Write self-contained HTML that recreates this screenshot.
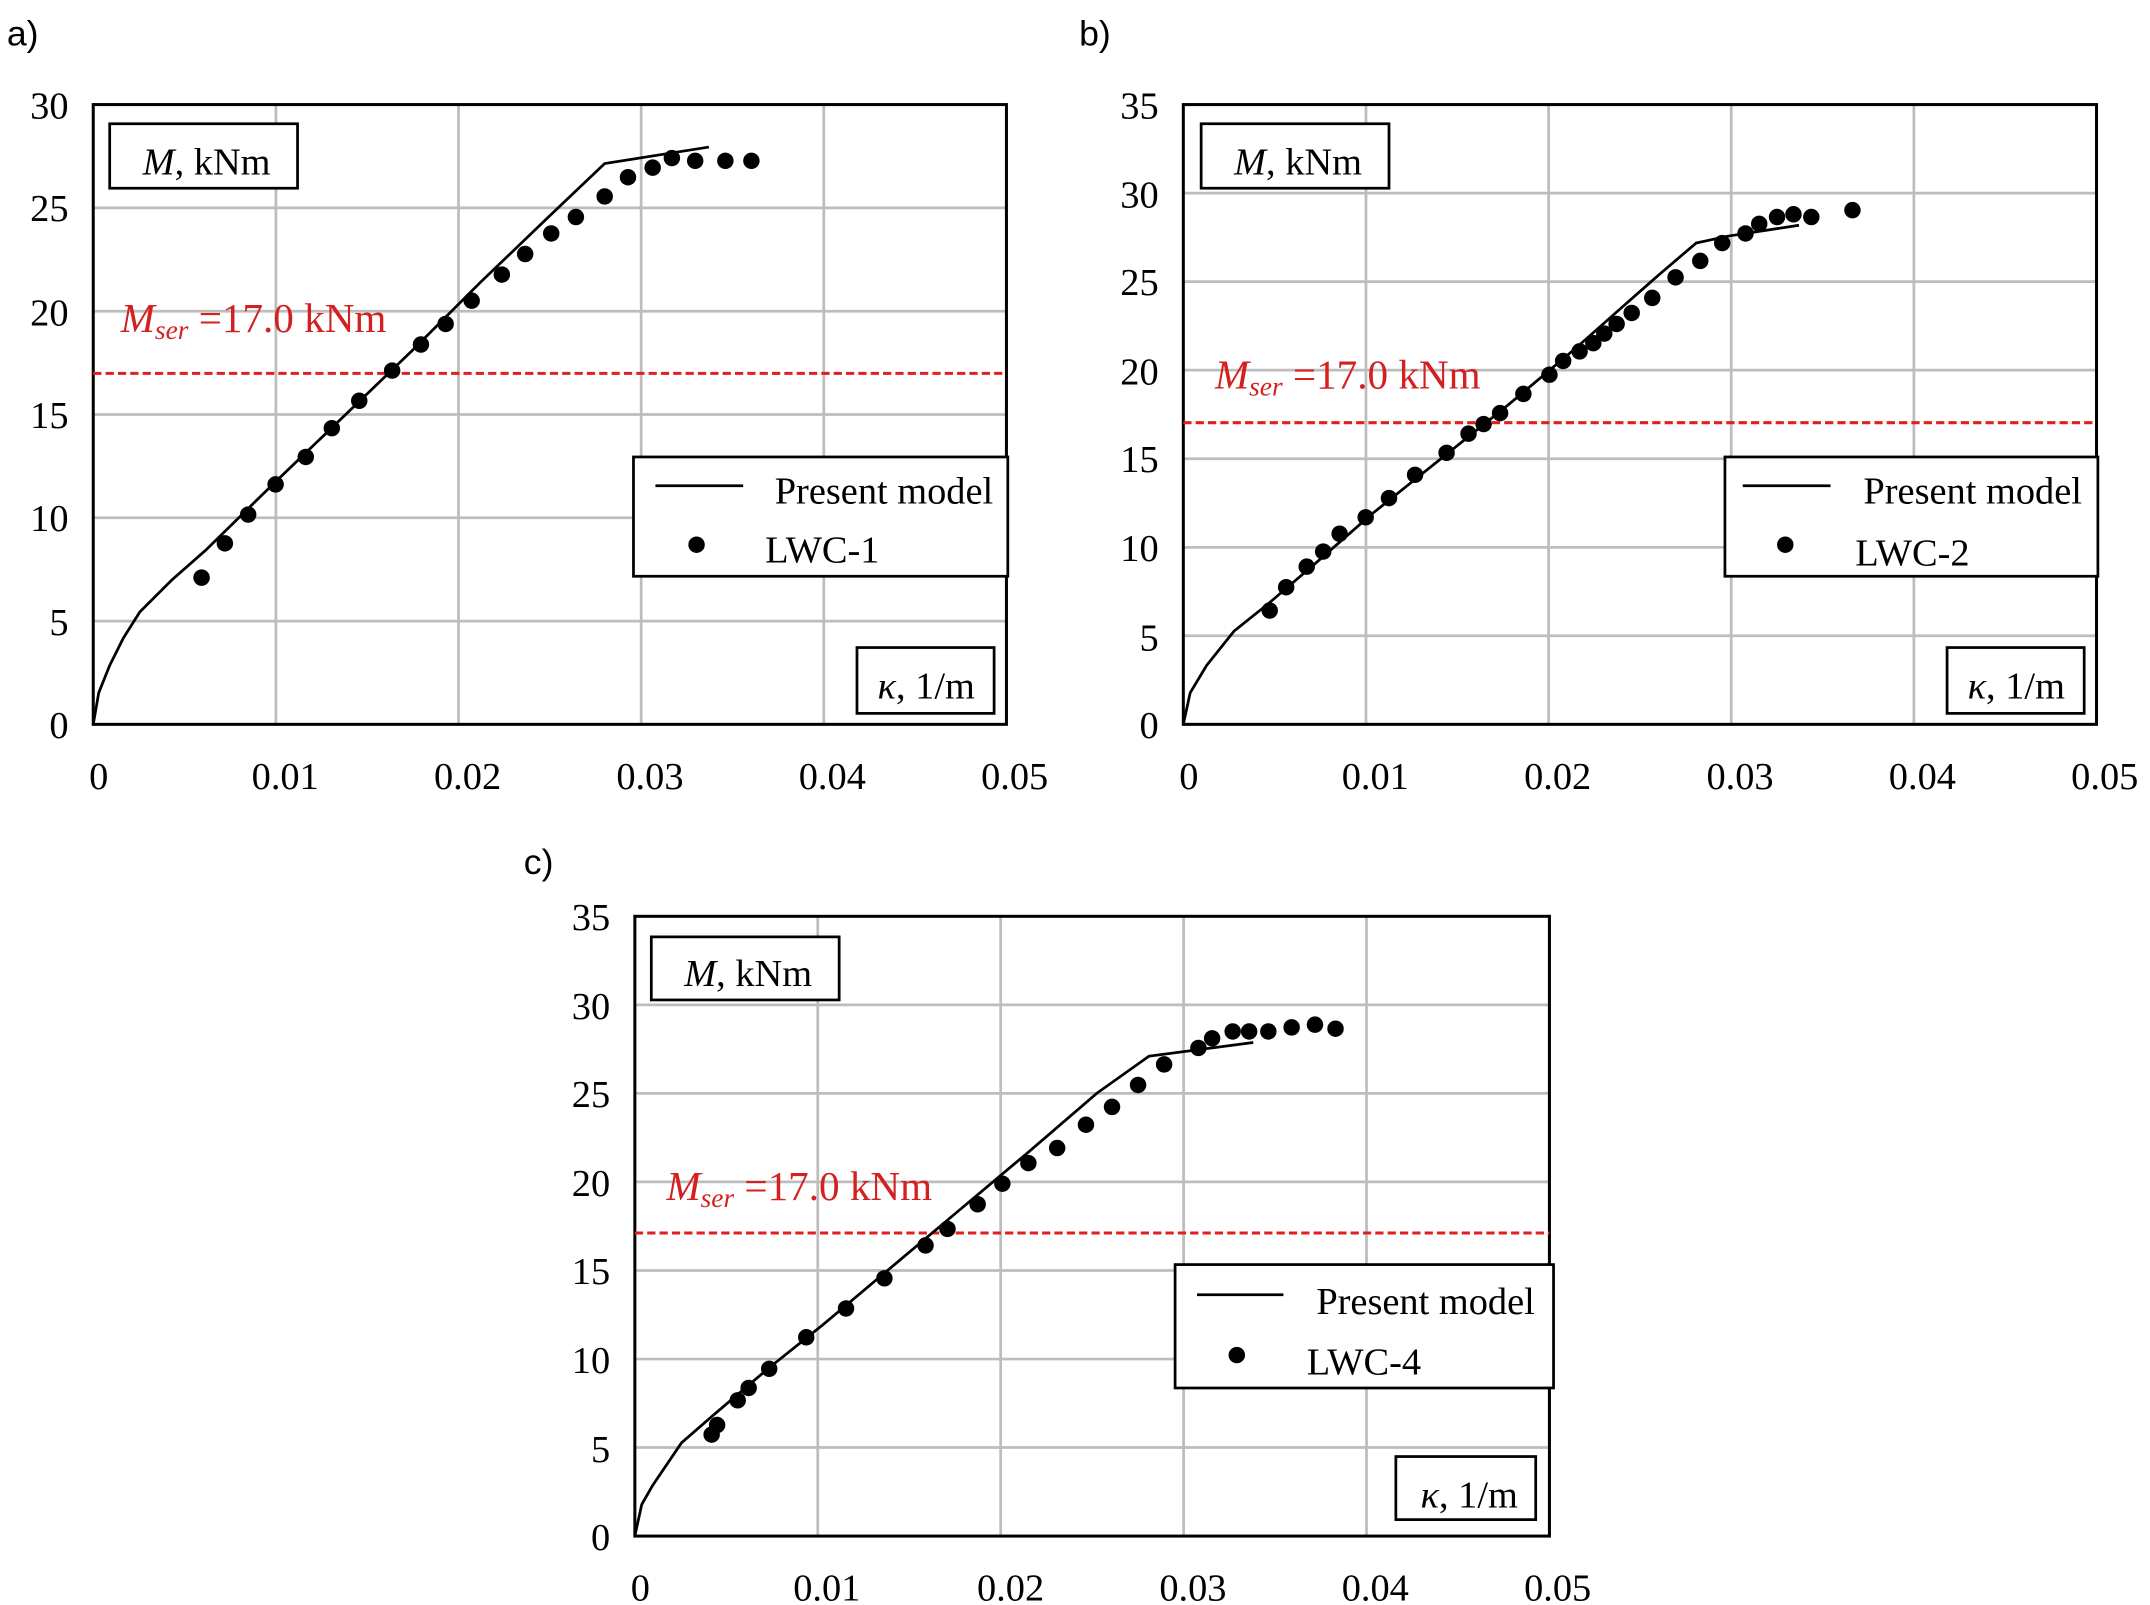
<!DOCTYPE html>
<html><head><meta charset="utf-8"><style>
html,body{margin:0;padding:0;background:#fff;}
svg{display:block;}
.t{font-family:"Liberation Serif",serif;font-size:28px;fill:#000;}
.lb{font-family:"Liberation Sans",sans-serif;font-size:26px;fill:#000;}
.g{stroke:#bdbdbd;stroke-width:2;fill:none;}
.ax{stroke:#000;stroke-width:2.2;fill:none;}
.bx{stroke:#000;stroke-width:2;fill:#fff;}
.ln{stroke:#000;stroke-width:2;fill:none;}
.red{stroke:#e0201e;stroke-width:2.2;stroke-dasharray:6,3;}
.rt{font-family:"Liberation Serif",serif;font-size:30px;fill:#d42020;}
</style></head><body>
<svg width="2150" height="1605" viewBox="0 0 1568 1170" xmlns="http://www.w3.org/2000/svg">
<rect width="1568" height="1170" fill="#fff"/>
<text class="lb" x="5" y="33">a)</text>
<text class="lb" x="787" y="33">b)</text>
<text class="lb" x="382" y="637">c)</text>

<!-- Chart a -->
<g>
<path class="g" d="M201.2 76V528M334.4 76V528M467.6 76V528M600.8 76V528M68 452.7H734M68 377.3H734M68 302H734M68 226.7H734M68 151.3H734"/>
<rect class="ax" x="68" y="76" width="666" height="452"/>
<line class="red" x1="68" y1="272" x2="734" y2="272"/>
<g class="t" text-anchor="end">
<text x="50" y="538">0</text><text x="50" y="463">5</text><text x="50" y="387">10</text><text x="50" y="312">15</text><text x="50" y="237">20</text><text x="50" y="161">25</text><text x="50" y="86">30</text>
</g>
<g class="t" text-anchor="middle">
<text x="72" y="575">0</text><text x="208" y="575">0.01</text><text x="341" y="575">0.02</text><text x="474" y="575">0.03</text><text x="607" y="575">0.04</text><text x="740" y="575">0.05</text>
</g>
<polyline class="ln" points="68,528 72,505 80,485 90,465 102,446 125,423 150,401 200,352 250,304 300,256 350,206 400,158 441,119 517,107"/>
<g fill="#000">
<circle cx="147" cy="421" r="6"/><circle cx="164" cy="396" r="6"/><circle cx="181" cy="375" r="6"/><circle cx="201" cy="353" r="6"/><circle cx="223" cy="333" r="6"/><circle cx="242" cy="312" r="6"/><circle cx="262" cy="292" r="6"/><circle cx="286" cy="270" r="6"/><circle cx="307" cy="251" r="6"/><circle cx="325" cy="236" r="6"/><circle cx="344" cy="219" r="6"/><circle cx="366" cy="200" r="6"/><circle cx="383" cy="185" r="6"/><circle cx="402" cy="170" r="6"/><circle cx="420" cy="158" r="6"/><circle cx="441" cy="143" r="6"/><circle cx="458" cy="129" r="6"/><circle cx="476" cy="122" r="6"/><circle cx="490" cy="115" r="6"/><circle cx="507" cy="117" r="6"/><circle cx="529" cy="117" r="6"/><circle cx="548" cy="117" r="6"/>
</g>
<rect class="bx" x="80" y="90" width="137" height="47"/>
<text class="t" x="104" y="127"><tspan font-style="italic">M</tspan>, kNm</text>
<rect class="bx" x="625" y="472" width="100" height="48"/>
<text class="t" x="640" y="509"><tspan font-style="italic">κ</tspan>, 1/m</text>
<rect class="bx" x="462" y="333" width="273" height="87"/>
<line class="ln" x1="478" y1="354" x2="542" y2="354"/>
<text class="t" x="565" y="367">Present model</text>
<circle cx="508" cy="397" r="6"/>
<text class="t" x="558" y="410">LWC-1</text>
<text class="rt" x="88" y="242"><tspan font-style="italic">M</tspan><tspan font-style="italic" font-size="20" dy="5">ser</tspan><tspan dy="-5"> =17.0 kNm</tspan></text>
</g>

<!-- Chart b -->
<g>
<path class="g" d="M996.2 76V528M1129.4 76V528M1262.6 76V528M1395.8 76V528M863 463.4H1529M863 398.9H1529M863 334.3H1529M863 269.7H1529M863 205.1H1529M863 140.6H1529"/>
<rect class="ax" x="863" y="76" width="666" height="452"/>
<line class="red" x1="863" y1="308" x2="1529" y2="308"/>
<g class="t" text-anchor="end">
<text x="845" y="538">0</text><text x="845" y="474">5</text><text x="845" y="409">10</text><text x="845" y="344">15</text><text x="845" y="280">20</text><text x="845" y="215">25</text><text x="845" y="151">30</text><text x="845" y="86">35</text>
</g>
<g class="t" text-anchor="middle">
<text x="867" y="575">0</text><text x="1003" y="575">0.01</text><text x="1136" y="575">0.02</text><text x="1269" y="575">0.03</text><text x="1402" y="575">0.04</text><text x="1535" y="575">0.05</text>
</g>
<polyline class="ln" points="863,528 868,505 880,485 900,460 925,440 960,410 1000,375 1050,335 1100,295 1150,253 1185,222 1210,200 1237,177 1260,172 1312,164"/>
<g fill="#000">
<circle cx="926" cy="445" r="6"/><circle cx="938" cy="428" r="6"/><circle cx="953" cy="413" r="6"/><circle cx="965" cy="402" r="6"/><circle cx="977" cy="389" r="6"/><circle cx="996" cy="377" r="6"/><circle cx="1013" cy="363" r="6"/><circle cx="1032" cy="346" r="6"/><circle cx="1055" cy="330" r="6"/><circle cx="1071" cy="316" r="6"/><circle cx="1082" cy="309" r="6"/><circle cx="1094" cy="301" r="6"/><circle cx="1111" cy="287" r="6"/><circle cx="1130" cy="273" r="6"/><circle cx="1140" cy="263" r="6"/><circle cx="1152" cy="256" r="6"/><circle cx="1162" cy="250" r="6"/><circle cx="1170" cy="243" r="6"/><circle cx="1179" cy="236" r="6"/><circle cx="1190" cy="228" r="6"/><circle cx="1205" cy="217" r="6"/><circle cx="1222" cy="202" r="6"/><circle cx="1240" cy="190" r="6"/><circle cx="1256" cy="177" r="6"/><circle cx="1273" cy="170" r="6"/><circle cx="1283" cy="163" r="6"/><circle cx="1296" cy="158" r="6"/><circle cx="1308" cy="156" r="6"/><circle cx="1321" cy="158" r="6"/><circle cx="1351" cy="153" r="6"/>
</g>
<rect class="bx" x="876" y="90" width="137" height="47"/>
<text class="t" x="900" y="127"><tspan font-style="italic">M</tspan>, kNm</text>
<rect class="bx" x="1420" y="472" width="100" height="48"/>
<text class="t" x="1435" y="509"><tspan font-style="italic">κ</tspan>, 1/m</text>
<rect class="bx" x="1258" y="333" width="272" height="87"/>
<line class="ln" x1="1271" y1="354" x2="1335" y2="354"/>
<text class="t" x="1359" y="367">Present model</text>
<circle cx="1302" cy="397" r="6"/>
<text class="t" x="1353" y="412">LWC-2</text>
<text class="rt" x="886" y="283"><tspan font-style="italic">M</tspan><tspan font-style="italic" font-size="20" dy="5">ser</tspan><tspan dy="-5"> =17.0 kNm</tspan></text>
</g>

<!-- Chart c -->
<g>
<path class="g" d="M596.4 668V1120M729.8 668V1120M863.2 668V1120M996.6 668V1120M463 1055.4H1130M463 990.9H1130M463 926.3H1130M463 861.7H1130M463 797.1H1130M463 732.6H1130"/>
<rect class="ax" x="463" y="668" width="667" height="452"/>
<line class="red" x1="463" y1="899" x2="1130" y2="899"/>
<g class="t" text-anchor="end">
<text x="445" y="1130">0</text><text x="445" y="1066">5</text><text x="445" y="1001">10</text><text x="445" y="936">15</text><text x="445" y="872">20</text><text x="445" y="807">25</text><text x="445" y="743">30</text><text x="445" y="678">35</text>
</g>
<g class="t" text-anchor="middle">
<text x="467" y="1167">0</text><text x="603" y="1167">0.01</text><text x="737" y="1167">0.02</text><text x="870" y="1167">0.03</text><text x="1003" y="1167">0.04</text><text x="1136" y="1167">0.05</text>
</g>
<polyline class="ln" points="463,1120 468,1097 476,1083 497,1052 520,1032 560,998 600,966 650,924 700,882 750,840 800,797 838,770 914,760"/>
<g fill="#000">
<circle cx="519" cy="1046" r="6"/><circle cx="523" cy="1039" r="6"/><circle cx="538" cy="1021" r="6"/><circle cx="546" cy="1012" r="6"/><circle cx="561" cy="998" r="6"/><circle cx="588" cy="975" r="6"/><circle cx="617" cy="954" r="6"/><circle cx="645" cy="932" r="6"/><circle cx="675" cy="908" r="6"/><circle cx="691" cy="896" r="6"/><circle cx="713" cy="878" r="6"/><circle cx="731" cy="863" r="6"/><circle cx="750" cy="848" r="6"/><circle cx="771" cy="837" r="6"/><circle cx="792" cy="820" r="6"/><circle cx="811" cy="807" r="6"/><circle cx="830" cy="791" r="6"/><circle cx="849" cy="776" r="6"/><circle cx="874" cy="764" r="6"/><circle cx="884" cy="757" r="6"/><circle cx="899" cy="752" r="6"/><circle cx="911" cy="752" r="6"/><circle cx="925" cy="752" r="6"/><circle cx="942" cy="749" r="6"/><circle cx="959" cy="747" r="6"/><circle cx="974" cy="750" r="6"/>
</g>
<rect class="bx" x="475" y="683" width="137" height="46"/>
<text class="t" x="499" y="719"><tspan font-style="italic">M</tspan>, kNm</text>
<rect class="bx" x="1018" y="1062" width="102" height="46"/>
<text class="t" x="1036" y="1099"><tspan font-style="italic">κ</tspan>, 1/m</text>
<rect class="bx" x="857" y="922" width="276" height="90"/>
<line class="ln" x1="873" y1="944" x2="936" y2="944"/>
<text class="t" x="960" y="958">Present model</text>
<circle cx="902" cy="988" r="6"/>
<text class="t" x="953" y="1002">LWC-4</text>
<text class="rt" x="486" y="875"><tspan font-style="italic">M</tspan><tspan font-style="italic" font-size="20" dy="5">ser</tspan><tspan dy="-5"> =17.0 kNm</tspan></text>
</g>
</svg>
</body></html>
